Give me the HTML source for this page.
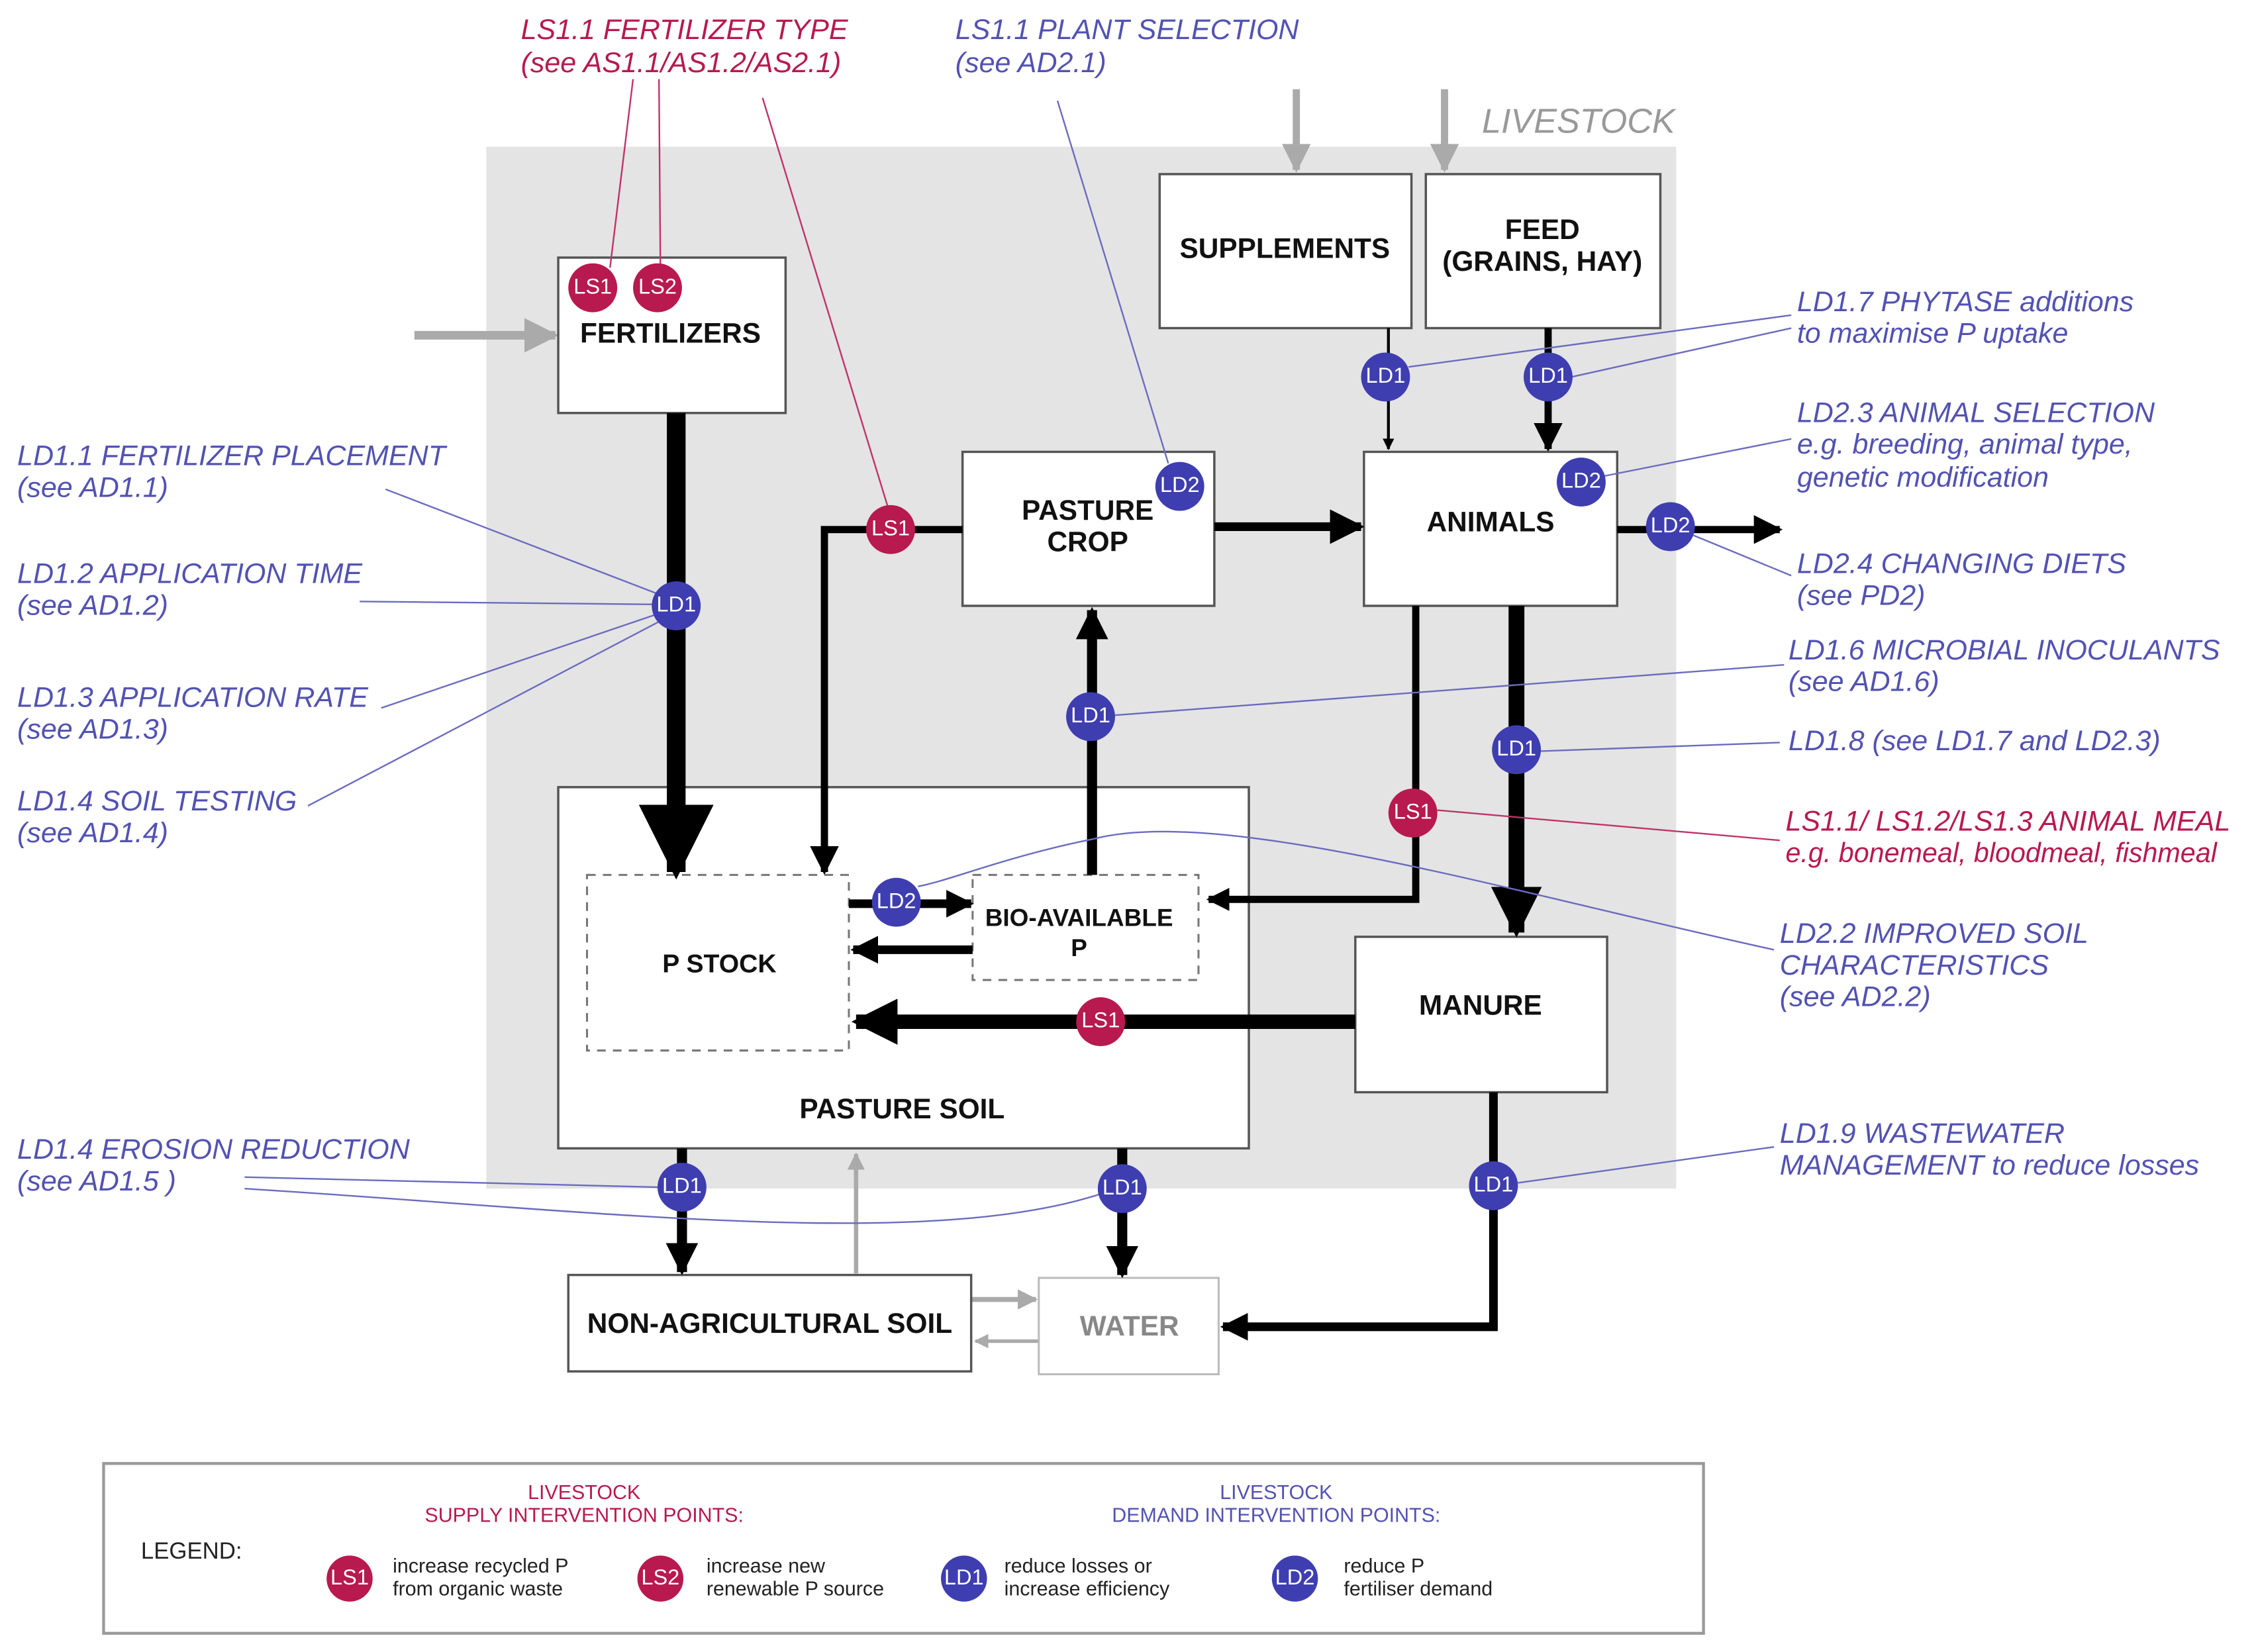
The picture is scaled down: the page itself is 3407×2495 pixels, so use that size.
<!DOCTYPE html>
<html><head><meta charset="utf-8"><style>
html,body{margin:0;padding:0;background:#fff;}
svg{display:block;}
text{font-family:"Liberation Sans",Arial,sans-serif;}
.bx{fill:#fff;stroke:#555;stroke-width:1.6;}
.lb{font-weight:bold;font-size:19.5px;fill:#111;text-anchor:middle;dominant-baseline:middle;}
.an{font-style:italic;font-size:19.8px;fill:#5252b3;dominant-baseline:middle;}
.ar{font-style:italic;font-size:19.8px;fill:#b8194f;dominant-baseline:middle;}
.ct{font-size:15px;fill:#fff;text-anchor:middle;dominant-baseline:middle;}
.bl{stroke:#6b6bc0;stroke-width:1.1;fill:none;}
.rl{stroke:#c0336a;stroke-width:1.1;fill:none;}
.k{stroke:#000;fill:none;}
.lg{font-size:14px;fill:#222;dominant-baseline:middle;}
</style></head><body>
<svg width="3407" height="2495" viewBox="0 0 1568 1148" preserveAspectRatio="none" xmlns="http://www.w3.org/2000/svg">
<defs>
<marker id="a" viewBox="0 0 10 10" refX="9" refY="5" markerWidth="4" markerHeight="4" orient="auto" markerUnits="strokeWidth"><path d="M0,0 L10,5 L0,10 z" fill="#000"/></marker>
<marker id="as" viewBox="0 0 10 10" refX="9" refY="5" markerWidth="3.2" markerHeight="3.2" orient="auto" markerUnits="strokeWidth"><path d="M0,0 L10,5 L0,10 z" fill="#000"/></marker>
<marker id="ag" viewBox="0 0 10 10" refX="9" refY="5" markerWidth="4" markerHeight="4" orient="auto" markerUnits="strokeWidth"><path d="M0,0 L10,5 L0,10 z" fill="#aaa"/></marker>
</defs>
<rect x="338" y="102" width="827" height="724" fill="#e4e4e4"/>
<text x="1030" y="86" font-size="24" font-style="italic" fill="#999" dominant-baseline="middle">LIVESTOCK</text>

<line x1="288" y1="233" x2="386" y2="233" stroke="#aaa" stroke-width="6" marker-end="url(#ag)"/>
<line x1="901" y1="62" x2="901" y2="118" stroke="#aaa" stroke-width="5" marker-end="url(#ag)"/>
<line x1="1004" y1="62" x2="1004" y2="118" stroke="#aaa" stroke-width="5" marker-end="url(#ag)"/>
<line x1="595" y1="885" x2="595" y2="802" stroke="#aaa" stroke-width="3" marker-end="url(#ag)"/>
<line x1="675" y1="903" x2="720" y2="903" stroke="#aaa" stroke-width="3.5" marker-end="url(#ag)"/>
<line x1="722" y1="932" x2="678" y2="932" stroke="#aaa" stroke-width="2.5" marker-end="url(#ag)"/>

<rect class="bx" x="388" y="179" width="158" height="108"/>
<text class="lb" x="466" y="233">FERTILIZERS</text>
<rect class="bx" x="806" y="121" width="175" height="107"/>
<text class="lb" x="893" y="174">SUPPLEMENTS</text>
<rect class="bx" x="991" y="121" width="163" height="107"/>
<text class="lb" x="1072" y="161">FEED</text><text class="lb" x="1072" y="183">(GRAINS, HAY)</text>
<rect class="bx" x="669" y="314" width="175" height="107"/>
<text class="lb" x="756" y="356">PASTURE</text><text class="lb" x="756" y="378">CROP</text>
<rect class="bx" x="948" y="314" width="176" height="107"/>
<text class="lb" x="1036" y="364">ANIMALS</text>
<rect class="bx" x="388" y="547" width="480" height="251"/>
<text class="lb" x="627" y="772">PASTURE SOIL</text>
<rect x="408" y="608" width="182" height="122" fill="#fff" stroke="#777" stroke-width="1.4" stroke-dasharray="6,5"/>
<text class="lb" x="500" y="671" style="font-size:18px">P STOCK</text>
<rect x="676" y="608" width="157" height="73" fill="#fff" stroke="#777" stroke-width="1.4" stroke-dasharray="6,5"/>
<text class="lb" x="750" y="639" style="font-size:17px">BIO-AVAILABLE</text><text class="lb" x="750" y="660" style="font-size:17px">P</text>
<rect class="bx" x="942" y="651" width="175" height="108"/>
<text class="lb" x="1029" y="700">MANURE</text>
<rect class="bx" x="395" y="886" width="280" height="67"/>
<text class="lb" x="535" y="921">NON-AGRICULTURAL SOIL</text>
<rect x="722" y="888" width="125" height="67" fill="#fff" stroke="#bbb" stroke-width="1.4"/>
<text class="lb" x="785" y="923" style="fill:#888">WATER</text>

<line class="k" x1="470" y1="287" x2="470" y2="606" stroke-width="13" marker-end="url(#a)"/>
<polyline class="k" points="669,368 573,368 573,606" stroke-width="5" marker-end="url(#a)"/>
<line class="k" x1="965" y1="228" x2="965" y2="312" stroke-width="2" marker-end="url(#a)"/>
<line class="k" x1="1076" y1="228" x2="1076" y2="312" stroke-width="5" marker-end="url(#a)"/>
<line class="k" x1="844" y1="366" x2="946" y2="366" stroke-width="6" marker-end="url(#a)"/>
<line class="k" x1="1124" y1="368" x2="1237" y2="368" stroke-width="5" marker-end="url(#a)"/>
<line class="k" x1="759" y1="608" x2="759" y2="424" stroke-width="7" marker-end="url(#as)"/>
<polyline class="k" points="984,421 984,625 840,625" stroke-width="5" marker-end="url(#as)"/>
<line class="k" x1="1054" y1="421" x2="1054" y2="648" stroke-width="11" marker-end="url(#as)"/>
<line class="k" x1="590" y1="628" x2="675" y2="628" stroke-width="6" marker-end="url(#as)"/>
<line class="k" x1="676" y1="660" x2="593" y2="660" stroke-width="6" marker-end="url(#as)"/>
<line class="k" x1="942" y1="710" x2="595" y2="710" stroke-width="10" marker-end="url(#as)"/>
<line class="k" x1="474" y1="798" x2="474" y2="884" stroke-width="7" marker-end="url(#as)"/>
<line class="k" x1="780" y1="798" x2="780" y2="886" stroke-width="7" marker-end="url(#as)"/>
<polyline class="k" points="1038,759 1038,922 850,922" stroke-width="6" marker-end="url(#as)"/>

<line class="rl" x1="440" y1="55" x2="424" y2="186"/>
<line class="rl" x1="458" y1="55" x2="459" y2="186"/>
<line class="rl" x1="530" y1="68" x2="617" y2="352"/>
<line class="bl" x1="735" y1="70" x2="812" y2="322"/>
<line class="bl" x1="268" y1="340" x2="458" y2="413"/>
<line class="bl" x1="250" y1="418" x2="455" y2="420"/>
<line class="bl" x1="265" y1="492" x2="456" y2="427"/>
<line class="bl" x1="214" y1="560" x2="458" y2="432"/>
<line class="bl" x1="1245" y1="219" x2="979" y2="255"/>
<line class="bl" x1="1245" y1="228" x2="1092" y2="262"/>
<line class="bl" x1="1245" y1="305" x2="1114" y2="331"/>
<line class="bl" x1="1245" y1="400" x2="1177" y2="372"/>
<line class="bl" x1="1240" y1="462" x2="775" y2="497"/>
<line class="bl" x1="1237" y1="516" x2="1071" y2="522"/>
<line class="rl" x1="1237" y1="584" x2="999" y2="563"/>
<path class="bl" d="M1233,660 C1050,620 850,560 760,583 C700,595 660,612 638,616"/>
<line class="bl" x1="1233" y1="797" x2="1055" y2="822"/>
<line class="bl" x1="170" y1="818" x2="458" y2="825"/>
<path class="bl" d="M170,826 C400,840 640,870 764,830"/>

<g>
<circle cx="412" cy="200" r="17" fill="#b8194f"/><text class="ct" x="412" y="200">LS1</text>
<circle cx="457" cy="200" r="17" fill="#b8194f"/><text class="ct" x="457" y="200">LS2</text>
<circle cx="619" cy="368" r="17" fill="#b8194f"/><text class="ct" x="619" y="368">LS1</text>
<circle cx="982" cy="565" r="17" fill="#b8194f"/><text class="ct" x="982" y="565">LS1</text>
<circle cx="765" cy="710" r="17" fill="#b8194f"/><text class="ct" x="765" y="710">LS1</text>
<circle cx="470" cy="421" r="17" fill="#3e3eb0"/><text class="ct" x="470" y="421">LD1</text>
<circle cx="963" cy="262" r="17" fill="#3e3eb0"/><text class="ct" x="963" y="262">LD1</text>
<circle cx="1076" cy="262" r="17" fill="#3e3eb0"/><text class="ct" x="1076" y="262">LD1</text>
<circle cx="820" cy="338" r="17" fill="#3e3eb0"/><text class="ct" x="820" y="338">LD2</text>
<circle cx="1099" cy="335" r="17" fill="#3e3eb0"/><text class="ct" x="1099" y="335">LD2</text>
<circle cx="1161" cy="366" r="17" fill="#3e3eb0"/><text class="ct" x="1161" y="366">LD2</text>
<circle cx="758" cy="498" r="17" fill="#3e3eb0"/><text class="ct" x="758" y="498">LD1</text>
<circle cx="1054" cy="521" r="17" fill="#3e3eb0"/><text class="ct" x="1054" y="521">LD1</text>
<circle cx="623" cy="627" r="17" fill="#3e3eb0"/><text class="ct" x="623" y="627">LD2</text>
<circle cx="474" cy="825" r="17" fill="#3e3eb0"/><text class="ct" x="474" y="825">LD1</text>
<circle cx="780" cy="826" r="17" fill="#3e3eb0"/><text class="ct" x="780" y="826">LD1</text>
<circle cx="1038" cy="824" r="17" fill="#3e3eb0"/><text class="ct" x="1038" y="824">LD1</text>
</g>

<text class="ar" x="362" y="22">LS1.1 FERTILIZER TYPE</text>
<text class="ar" x="362" y="45">(see AS1.1/AS1.2/AS2.1)</text>
<text class="an" x="664" y="22">LS1.1 PLANT SELECTION</text>
<text class="an" x="664" y="45">(see AD2.1)</text>
<text class="an" x="12" y="318">LD1.1 FERTILIZER PLACEMENT</text>
<text class="an" x="12" y="340">(see AD1.1)</text>
<text class="an" x="12" y="400">LD1.2 APPLICATION TIME</text>
<text class="an" x="12" y="422">(see AD1.2)</text>
<text class="an" x="12" y="486">LD1.3 APPLICATION RATE</text>
<text class="an" x="12" y="508">(see AD1.3)</text>
<text class="an" x="12" y="558">LD1.4 SOIL TESTING</text>
<text class="an" x="12" y="580">(see AD1.4)</text>
<text class="an" x="12" y="800">LD1.4 EROSION REDUCTION</text>
<text class="an" x="12" y="822">(see AD1.5 )</text>
<text class="an" x="1249" y="211">LD1.7 PHYTASE additions</text>
<text class="an" x="1249" y="233">to maximise P uptake</text>
<text class="an" x="1249" y="288">LD2.3 ANIMAL SELECTION</text>
<text class="an" x="1249" y="310">e.g. breeding, animal type,</text>
<text class="an" x="1249" y="333">genetic modification</text>
<text class="an" x="1249" y="393">LD2.4 CHANGING DIETS</text>
<text class="an" x="1249" y="415">(see PD2)</text>
<text class="an" x="1243" y="453">LD1.6 MICROBIAL INOCULANTS</text>
<text class="an" x="1243" y="475">(see AD1.6)</text>
<text class="an" x="1243" y="516">LD1.8 (see LD1.7 and LD2.3)</text>
<text class="ar" x="1241" y="572">LS1.1/ LS1.2/LS1.3 ANIMAL MEAL</text>
<text class="ar" x="1241" y="594" style="font-size:19px">e.g. bonemeal, bloodmeal, fishmeal</text>
<text class="an" x="1237" y="650">LD2.2 IMPROVED SOIL</text>
<text class="an" x="1237" y="672">CHARACTERISTICS</text>
<text class="an" x="1237" y="694">(see AD2.2)</text>
<text class="an" x="1237" y="789">LD1.9 WASTEWATER</text>
<text class="an" x="1237" y="811">MANAGEMENT to reduce losses</text>

<rect x="72" y="1017" width="1112" height="118" fill="#fff" stroke="#999" stroke-width="2"/>
<text class="lg" x="98" y="1079" style="font-size:16px">LEGEND:</text>
<text class="lg" x="406" y="1038" text-anchor="middle" style="fill:#b8194f">LIVESTOCK</text>
<text class="lg" x="406" y="1054" text-anchor="middle" style="fill:#b8194f">SUPPLY INTERVENTION POINTS:</text>
<text class="lg" x="887" y="1038" text-anchor="middle" style="fill:#5252b3">LIVESTOCK</text>
<text class="lg" x="887" y="1054" text-anchor="middle" style="fill:#5252b3">DEMAND INTERVENTION POINTS:</text>
<circle cx="243" cy="1097" r="16" fill="#b8194f"/><text class="ct" x="243" y="1097" font-size="13">LS1</text>
<text class="lg" x="273" y="1089">increase recycled P</text><text class="lg" x="273" y="1105">from organic waste</text>
<circle cx="459" cy="1097" r="16" fill="#b8194f"/><text class="ct" x="459" y="1097" font-size="13">LS2</text>
<text class="lg" x="491" y="1089">increase new</text><text class="lg" x="491" y="1105">renewable P source</text>
<circle cx="670" cy="1097" r="16" fill="#3e3eb0"/><text class="ct" x="670" y="1097" font-size="13">LD1</text>
<text class="lg" x="698" y="1089">reduce losses or</text><text class="lg" x="698" y="1105">increase efficiency</text>
<circle cx="900" cy="1097" r="16" fill="#3e3eb0"/><text class="ct" x="900" y="1097" font-size="13">LD2</text>
<text class="lg" x="934" y="1089">reduce P</text><text class="lg" x="934" y="1105">fertiliser demand</text>
</svg>
</body></html>
